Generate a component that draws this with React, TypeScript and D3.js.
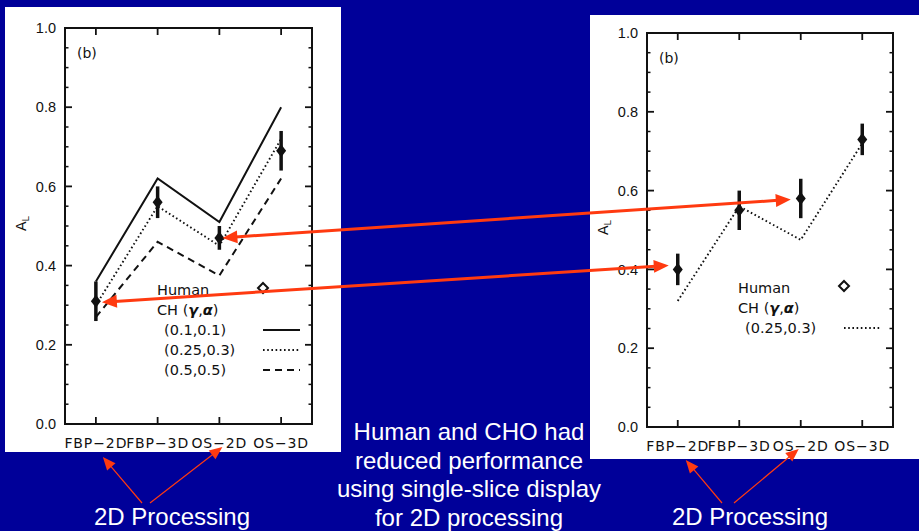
import React from 'react';
import * as d3 from 'd3';

// categories and values
const categories = ['FBP\u22122D', 'FBP\u22123D', 'OS\u22122D', 'OS\u22123D'];

const leftHuman = [0.31, 0.56, 0.47, 0.69];
const leftHumanErr = [0.05, 0.04, 0.03, 0.05];
const leftCH01 = [0.36, 0.62, 0.51, 0.8];
const leftCH025 = [0.3, 0.55, 0.45, 0.72];
const leftCH05 = [0.27, 0.46, 0.375, 0.62];

const rightHuman = [0.4, 0.55, 0.58, 0.73];
const rightHumanErr = [0.04, 0.05, 0.05, 0.04];
const rightCH025 = [0.32, 0.56, 0.475, 0.72];

const yTickLabels = ['0.0', '0.2', '0.4', '0.6', '0.8', '1.0'];

const centerText = ['Human and CHO had', 'reduced performance', 'using single-slice display', 'for 2D processing'];

const BG = '#000099';
const RED = '#ff3a10';
const INK = '#111';

type Series = { label: string; values: number[]; dash: string; width: number };

const diamond = 'M0,-6.5L5,0L0,6.5L-5,0Z';
const openDiamond = 'M0,-5L5,0L0,5L-5,0Z';

function arrowHead(x1: number, y1: number, x2: number, y2: number, len: number, half: number) {
  const a = Math.atan2(y2 - y1, x2 - x1);
  const bx = x2 - len * Math.cos(a);
  const by = y2 - len * Math.sin(a);
  const px = -Math.sin(a) * half;
  const py = Math.cos(a) * half;
  return `${x2},${y2} ${bx + px},${by + py} ${bx - px},${by - py}`;
}

function Arrow({ x1, y1, x2, y2, width, len, half, both }: any) {
  const a = Math.atan2(y2 - y1, x2 - x1);
  const sx = both ? x1 + (len - 2) * Math.cos(a) : x1;
  const sy = both ? y1 + (len - 2) * Math.sin(a) : y1;
  const ex = x2 - (len - 2) * Math.cos(a);
  const ey = y2 - (len - 2) * Math.sin(a);
  return (
    <g>
      <line x1={sx} y1={sy} x2={ex} y2={ey} stroke={RED} strokeWidth={width} />
      <polygon points={arrowHead(x1, y1, x2, y2, len, half)} fill={RED} />
      {both && <polygon points={arrowHead(x2, y2, x1, y1, len, half)} fill={RED} />}
    </g>
  );
}

function Panel({ x, y, human, err, series, legend }: any) {
  const ticksMajor = y.ticks(5);
  const ticksMinor = y.ticks(20).filter((t: number) => !ticksMajor.some((m: number) => Math.abs(m - t) < 1e-9));
  const [x0, x1] = x.range();
  const [yb, yt] = y.range();
  const font = 'DejaVu Sans, sans-serif';
  return (
    <g>
      <rect x={x0} y={yt} width={x1 - x0} height={yb - yt} fill="none" stroke={INK} strokeWidth={2} />
      {ticksMajor.map((t: number) => (
        <g key={'M' + t}>
          <line x1={x0} x2={x0 + 7} y1={y(t)} y2={y(t)} stroke={INK} strokeWidth={1.8} />
          <line x1={x1} x2={x1 - 7} y1={y(t)} y2={y(t)} stroke={INK} strokeWidth={1.8} />
        </g>
      ))}
      {ticksMinor.map((t: number) => (
        <g key={'m' + t}>
          <line x1={x0} x2={x0 + 3.5} y1={y(t)} y2={y(t)} stroke={INK} strokeWidth={1.5} />
          <line x1={x1} x2={x1 - 3.5} y1={y(t)} y2={y(t)} stroke={INK} strokeWidth={1.5} />
        </g>
      ))}
      {ticksMajor.map((t: number, i: number) => (
        <text key={'l' + t} x={x0 - 9} y={y(t)} dy="0.36em" textAnchor="end" fontFamily="Liberation Sans, sans-serif" fontSize={14.5} fill={INK}>
          {yTickLabels[i]}
        </text>
      ))}
      {categories.map((c) => (
        <g key={c}>
          <line x1={x(c)} x2={x(c)} y1={yb} y2={yb - 7} stroke={INK} strokeWidth={1.8} />
          <line x1={x(c)} x2={x(c)} y1={yt} y2={yt + 7} stroke={INK} strokeWidth={1.8} />
          <text x={x(c)} y={yb + 24} textAnchor="middle" fontFamily={font} fontSize={14} letterSpacing={0.9} fill={INK}>
            {c}
          </text>
        </g>
      ))}
      <text x={x0 + 12} y={yt + 30} fontFamily={font} fontSize={14} fill={INK}>(b)</text>
      <text transform={`translate(${x0 - 39},${(yt + yb) / 2 + 5}) rotate(-90)`} fontFamily={font} fontSize={14} fill={INK}>
        A<tspan fontSize={9.5} dy={3}>L</tspan>
      </text>
      {series.map((s: Series) => (
        <path
          key={s.label}
          d={d3.line<number>().x((_, i) => x(categories[i])).y((v) => y(v))(s.values) || ''}
          fill="none"
          stroke={INK}
          strokeWidth={s.width}
          strokeDasharray={s.dash}
        />
      ))}
      {human.map((v: number, i: number) => (
        <g key={'h' + i}>
          <line x1={x(categories[i])} x2={x(categories[i])} y1={y(v - err[i])} y2={y(v + err[i])} stroke={INK} strokeWidth={3.5} />
          <path d={diamond} transform={`translate(${x(categories[i])},${y(v)})`} fill={INK} />
        </g>
      ))}
      <g fontFamily={font} fontSize={14.5} fill={INK}>
        <text x={legend.x} y={legend.y}>Human</text>
        <path d={openDiamond} transform={`translate(${legend.dx},${legend.y - 7})`} fill="white" stroke={INK} strokeWidth={2} />
        <text x={legend.x} y={legend.y + 20}>
          CH (<tspan fontStyle="italic" fontWeight="bold">{'\u03b3'}</tspan>,<tspan fontStyle="italic" fontWeight="bold">{'\u03b1'}</tspan>)
        </text>
        {series.map((s: Series, i: number) => (
          <g key={'lg' + s.label}>
            <text x={legend.x + 7} y={legend.y + 40 + i * 20}>{s.label}</text>
            <line x1={legend.dx} x2={legend.dx + 37} y1={legend.y + 35 + i * 20} y2={legend.y + 35 + i * 20} stroke={INK} strokeWidth={s.width} strokeDasharray={s.dash} />
          </g>
        ))}
      </g>
    </g>
  );
}

export default function App() {
  const xL = d3.scalePoint<string>().domain(categories).range([65, 312]).padding(0.5);
  const yL = d3.scaleLinear().domain([0, 1]).range([424, 28]);
  const xR = d3.scalePoint<string>().domain(categories).range([647, 893]).padding(0.5);
  const yR = d3.scaleLinear().domain([0, 1]).range([427, 33]);

  const leftSeries: Series[] = [
    { label: '(0.1,0.1)', values: leftCH01, dash: '', width: 2 },
    { label: '(0.25,0.3)', values: leftCH025, dash: '1.6,2.6', width: 1.9 },
    { label: '(0.5,0.5)', values: leftCH05, dash: '7,5', width: 2 },
  ];
  const rightSeries: Series[] = [{ label: '(0.25,0.3)', values: rightCH025, dash: '1.6,2.6', width: 1.9 }];

  const fbp2 = categories[0];
  const os2 = categories[2];

  return (
    <svg width={919} height={531} style={{ position: 'absolute', left: 0, top: 0 }}>
      <rect width={919} height={531} fill={BG} />
      <rect x={5} y={7} width={336} height={445} fill="white" />
      <rect x={590} y={15} width={329} height={444} fill="white" />
      <Panel x={xL} y={yL} human={leftHuman} err={leftHumanErr} series={leftSeries} legend={{ x: 157, y: 295, dx: 263 }} />
      <Panel x={xR} y={yR} human={rightHuman} err={rightHumanErr} series={rightSeries} legend={{ x: 738, y: 293, dx: 844 }} />

      {/* arrows linking the human points across panels */}
      <Arrow x1={xL(os2)! + 3} y1={yL(leftHuman[2])} x2={xR(os2)! - 10} y2={yR(rightHuman[2]) + 1} width={3} len={15} half={6.5} both />
      <Arrow x1={xL(fbp2)! + 6} y1={yL(leftHuman[0]) + 1} x2={xR(fbp2)! - 9} y2={yR(rightHuman[0]) - 4} width={3} len={15} half={6.5} both />

      {/* annotation arrows from the captions */}
      <Arrow x1={142} y1={503} x2={xL(fbp2)! + 7} y2={457} width={1.2} len={13} half={5.5} />
      <Arrow x1={150} y1={503} x2={xL(os2)! + 3} y2={447} width={1.2} len={13} half={5.5} />
      <Arrow x1={722} y1={503} x2={xR(fbp2)! + 8} y2={460} width={1.2} len={13} half={5.5} />
      <Arrow x1={734} y1={503} x2={xR(os2)! - 2} y2={449} width={1.2} len={13} half={5.5} />

      <g fontFamily="Liberation Sans, Arial, sans-serif" fontSize={24} fill="white" textAnchor="middle">
        <text x={172} y={525}>2D Processing</text>
        <text x={750} y={525}>2D Processing</text>
        {centerText.map((t, i) => (
          <text key={t} x={469} y={440 + i * 28.7}>{t}</text>
        ))}
      </g>
    </svg>
  );
}
